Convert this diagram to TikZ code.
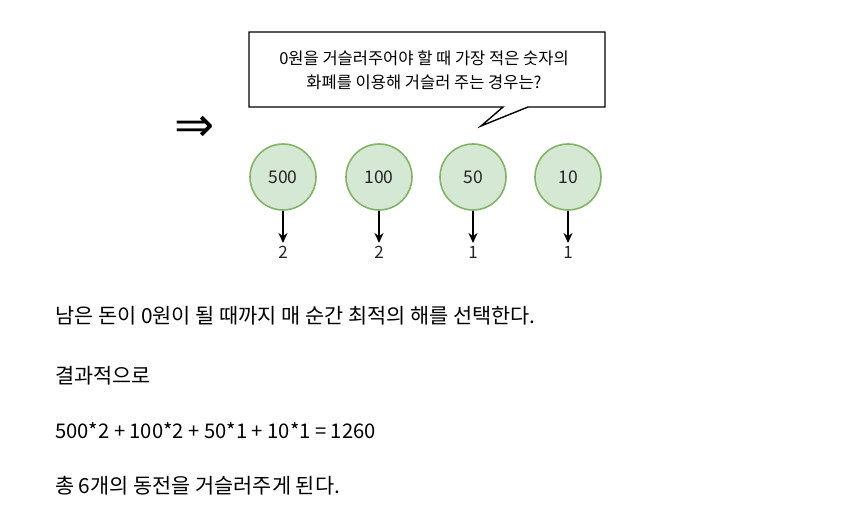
\documentclass[tikz,border=0pt]{standalone}
\usepackage{fontspec}
\setmainfont{Noto Sans CJK KR}
\newfontfamily\symfont{DejaVu Sans}
\usetikzlibrary{arrows.meta}
\definecolor{coinfill}{HTML}{D5E8D4}
\definecolor{coindraw}{HTML}{82B366}
\begin{document}
\begin{tikzpicture}[x=1pt,y=-1pt,
  coin/.style={circle,draw=coindraw,fill=coinfill,line width=1.6pt,minimum size=66pt,inner sep=0pt,font=\fontsize{17.5}{19}\selectfont,text=black!85},
  cnt/.style={font=\fontsize{17}{19}\selectfont,text=black!85,inner sep=0pt},
  body/.style={anchor=west,inner sep=0pt,font=\fontsize{20.8}{24}\selectfont},
  arr/.style={-{Stealth[length=10pt,width=9pt]},line width=1.4pt}]
\useasboundingbox (0,0) rectangle (850,516);
% callout
\draw[line width=1.4pt] (249,32) -- (605,32) -- (605,107) -- (528,107) -- (481,126) -- (503,107) -- (249,107) -- cycle;
\node[align=center,font=\fontsize{16.5}{24}\selectfont,inner sep=0pt] (q) at (424,70) {0원을 거슬러주어야 할 때 가장 적은 숫자의\\화폐를 이용해 거슬러 주는 경우는?};
\node[inner sep=0pt,font=\symfont\fontsize{48}{50}\selectfont] (imp) at (195,129) {⇒};
% coins
\node[coin] (c1) at (283,177) {500};
\node[coin] (c2) at (379,177) {100};
\node[coin] (c3) at (473,177) {50};
\node[coin] (c4) at (568,177) {10};
\node[cnt] (n1) at (283,252) {2};
\node[cnt] (n2) at (379,252) {2};
\node[cnt] (n3) at (473,252) {1};
\node[cnt] (n4) at (568,252) {1};
\foreach \i in {1,2,3,4} \draw[arr] (c\i.south) -- (c\i.south |- 0,243);
% body text
\node[body] (t1) at (55,316) {남은 돈이 0원이 될 때까지 매 순간 최적의 해를 선택한다.};
\node[body] (t2) at (55,376) {결과적으로};
\node[body,font=\fontsize{20.2}{24}\selectfont] (t3) at (55,431) {500*2 + 100*2 + 50*1 + 10*1 = 1260};
\node[body] (t4) at (55,486) {총 6개의 동전을 거슬러주게 된다.};
\end{tikzpicture}
\end{document}
